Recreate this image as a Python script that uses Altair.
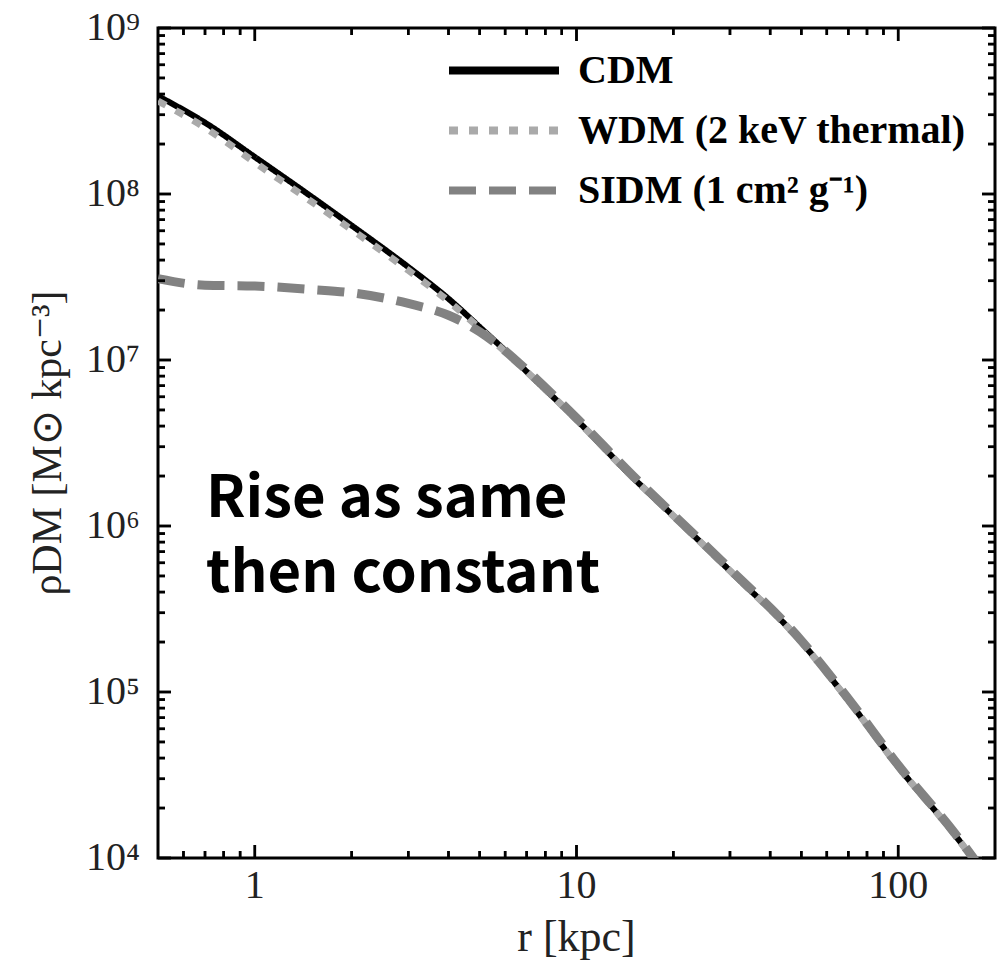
import altair as alt
import pandas as pd

# ---------------- data ----------------
models = ["CDM", "WDM (2 keV thermal)", "SIDM (1 cm² g⁻¹)"]
r_kpc = [0.5, 0.7, 1, 1.5, 2, 3, 4, 5, 6, 7, 10, 15, 20, 30, 50, 70, 100, 150, 200]
rho_cdm = [3.89e8, 2.69e8, 1.67e8, 9.64e7, 6.46e7, 3.63e7, 2.34e7, 1.58e7, 1.14e7, 8.51e6,
           4.37e6, 1.95e6, 1.15e6, 5.37e5, 2.0e5, 8.9e4, 3.55e4, 1.38e4, 6.5e3]
rho_wdm = [3.63e8, 2.51e8, 1.55e8, 9.0e7, 6.1e7, 3.47e7, 2.26e7, 1.55e7, 1.12e7, 8.51e6,
           4.37e6, 1.95e6, 1.15e6, 5.37e5, 2.0e5, 8.9e4, 3.55e4, 1.38e4, 6.5e3]
rho_sidm = [3.09e7, 2.82e7, 2.79e7, 2.66e7, 2.54e7, 2.19e7, 1.86e7, 1.48e7, 1.135e7, 8.7e6,
            4.47e6, 2.0e6, 1.17e6, 5.5e5, 2.04e5, 9.1e4, 3.63e4, 1.41e4, 6.6e3]

x_major = [1, 10, 100]
x_major_labels = ["1", "10", "100"]
x_minor = [0.6, 0.7, 0.8, 0.9, 2, 3, 4, 5, 6, 7, 8, 9, 20, 30, 40, 50, 60, 70, 80, 90]
y_major = [1e4, 1e5, 1e6, 1e7, 1e8, 1e9]
y_major_labels = ["10⁴", "10⁵", "10⁶", "10⁷", "10⁸", "10⁹"]
y_minor = [m * 10 ** k for k in range(4, 9) for m in range(2, 10)]

x_title = "r [kpc]"
y_title = "ρDM [M⊙ kpc⁻³]"
note_lines = ["Rise as same", "then constant"]

rows = []
for name, vals in zip(models, [rho_cdm, rho_wdm, rho_sidm]):
    for r, v in zip(r_kpc, vals):
        rows.append({"model": name, "r": r, "rho": v})
df = pd.DataFrame(rows)

# ---------------- scales / styles ----------------
W, H = 837, 830
X0, X1, Y0, Y1 = 0.5, 200, 1e4, 1e9
xs = alt.Scale(type="log", domain=[X0, X1], nice=False)
ys = alt.Scale(type="log", domain=[Y0, Y1], nice=False)
cs = alt.Scale(domain=models, range=["#000000", "#aaaaaa", "#828282"])
ds = alt.Scale(domain=models, range=[[1, 0], [9, 11], [27, 13]])
widths = [6, 7, 9]
X_DEC = W / 2.60206   # pixels per decade on x
Y_DEC = H / 5.0       # pixels per decade on y

serif = "Liberation Serif"
MAJ, MIN = 13, 7

legend = alt.Legend(
    orient="none", legendX=287, legendY=20, title=None,
    symbolType="stroke", symbolSize=12100, symbolStrokeWidth=8,
    labelFont=serif, labelFontSize=40, labelFontWeight="bold", labelColor="black",
    labelLimit=700, labelOffset=15, clipHeight=45, rowPadding=15,
)

line_layers = []
for name, w in zip(models, widths):
    line_layers.append(
        alt.Chart(df).transform_filter(alt.datum.model == name)
        .mark_line(clip=True, strokeWidth=w, interpolate="monotone", strokeCap="butt")
        .encode(
            x=alt.X("r:Q", scale=xs, axis=None),
            y=alt.Y("rho:Q", scale=ys, axis=None),
            color=alt.Color("model:N", scale=cs, legend=legend),
            strokeDash=alt.StrokeDash("model:N", scale=ds, legend=legend),
        )
    )


# inward ticks on all four sides: short segments whose ends go through the scales
def x_ticks(values, length, top, key):
    f = 10 ** (length / Y_DEC)
    a, b = (Y1, Y1 / f) if top else (Y0, Y0 * f)
    base = alt.Chart(pd.DataFrame({key: values})).transform_calculate(
        ta=str(a), tb=str(b))
    rule = base.mark_rule(color="black", strokeWidth=2.5).encode(
        x=alt.X(f"{key}:Q", scale=xs, axis=None),
        y=alt.Y("ta:Q", scale=ys, axis=None), y2="tb:Q")
    seg = base.transform_fold(["ta", "tb"], as_=["end", "tv"]).mark_line(
        color="black", strokeWidth=2.5).encode(
        x=alt.X(f"{key}:Q", scale=xs, axis=None),
        y=alt.Y("tv:Q", scale=ys, axis=None), detail=f"{key}:N")
    return [rule, seg]


def y_ticks(values, length, right, key):
    f = 10 ** (length / X_DEC)
    a, b = (X1, X1 / f) if right else (X0, X0 * f)
    base = alt.Chart(pd.DataFrame({key: values})).transform_calculate(
        ta=str(a), tb=str(b))
    rule = base.mark_rule(color="black", strokeWidth=2.5).encode(
        y=alt.Y(f"{key}:Q", scale=ys, axis=None),
        x=alt.X("ta:Q", scale=xs, axis=None), x2="tb:Q")
    seg = base.transform_fold(["ta", "tb"], as_=["end", "tv"]).mark_line(
        color="black", strokeWidth=2.5).encode(
        y=alt.Y(f"{key}:Q", scale=ys, axis=None),
        x=alt.X("tv:Q", scale=xs, axis=None), detail=f"{key}:N", order="end:N")
    return [rule, seg]


tick_layers = []
for top in (False, True):
    side = "t" if top else "b"
    tick_layers += x_ticks(x_major, MAJ, top, "xM" + side)
    tick_layers += x_ticks(x_minor, MIN, top, "xm" + side)
    tick_layers += y_ticks(y_major, MAJ, top, "yM" + side)
    tick_layers += y_ticks(y_minor, MIN, top, "ym" + side)

# tick labels and axis titles as text marks
x_lab = alt.Chart(pd.DataFrame({"xl": x_major, "t": x_major_labels})).mark_text(
    font=serif, fontSize=40, color="#222", align="center", baseline="alphabetic").encode(
    x=alt.X("xl:Q", scale=xs, axis=None), y=alt.value(H + 40), text="t:N")
y_lab = alt.Chart(pd.DataFrame({"yl": y_major, "t": y_major_labels})).mark_text(
    font=serif, fontSize=40, color="#222", align="right", baseline="middle").encode(
    y=alt.Y("yl:Q", scale=ys, axis=None), x=alt.value(-18), text="t:N")
x_tit = alt.Chart(pd.DataFrame({"t": [x_title]})).mark_text(
    font=serif, fontSize=44, color="#222", align="center", baseline="alphabetic").encode(
    x=alt.value(W / 2), y=alt.value(H + 93), text="t:N")
y_tit = alt.Chart(pd.DataFrame({"t": [y_title]})).mark_text(
    font=serif, fontSize=42, color="#222", align="center", baseline="middle",
    angle=270).encode(
    x=alt.value(-110), y=alt.value(H / 2), text="t:N")

note_font = dict(font="Noto Sans CJK SC", fontSize=58, fontWeight="bold",
                 color="black", align="left", baseline="alphabetic")
note1 = alt.Chart(pd.DataFrame({"t": [note_lines[0]]})).mark_text(**note_font).encode(
    x=alt.XDatum(0.705, scale=xs, axis=None), y=alt.YDatum(1.13e6, scale=ys, axis=None),
    text="t:N")
note2 = alt.Chart(pd.DataFrame({"t": [note_lines[1]]})).mark_text(**note_font).encode(
    x=alt.XDatum(0.705, scale=xs, axis=None), y=alt.YDatum(4.0e5, scale=ys, axis=None),
    text="t:N")

chart = (
    alt.layer(*line_layers, *tick_layers, x_lab, y_lab, x_tit, y_tit, note1, note2)
    .properties(width=W, height=H, autosize="none",
                padding={"left": 158, "top": 28, "right": 3, "bottom": 105},
                background="white")
    .configure_view(stroke="black", strokeWidth=3)
)

chart.save("out.html", embed_options={"renderer": "svg", "actions": False})
